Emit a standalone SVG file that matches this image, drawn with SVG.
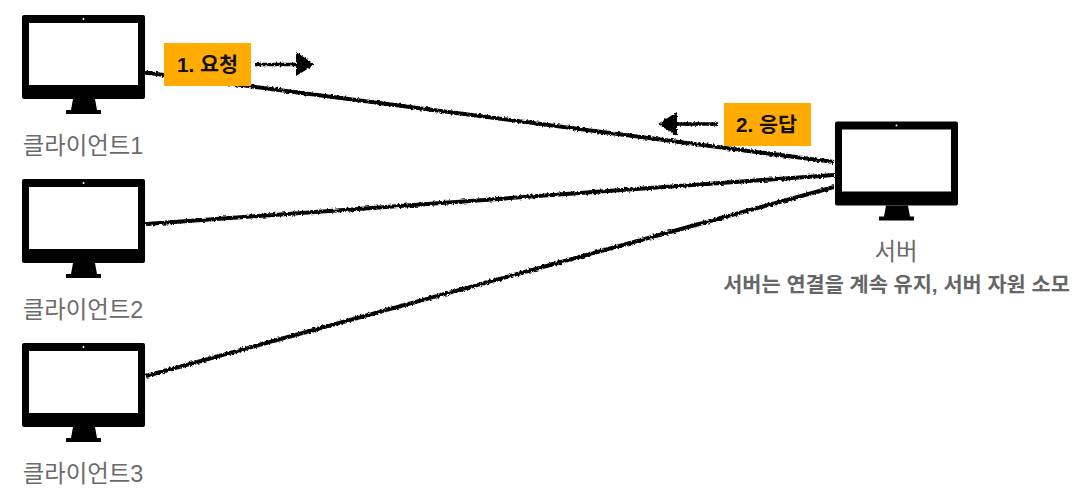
<svg xmlns="http://www.w3.org/2000/svg" width="1074" height="494" viewBox="0 0 1074 494">
<style>
text{font-family:"Liberation Sans","Noto Sans CJK KR",sans-serif}
.cap{font-size:23.400px;fill:#6b6b6b}
.note{font-size:20.800px;font-weight:700;fill:#666}
.tag{font-size:20.700px;font-weight:700;fill:#111}
.wire{stroke:#000;stroke-width:4;fill:none}
.small{stroke:#000;stroke-width:3.600;fill:none}
</style>
<defs>
<filter id="rough" x="-5%" y="-50%" width="110%" height="200%">
<feTurbulence type="fractalNoise" baseFrequency="0.45" numOctaves="3" seed="3"/>
<feDisplacementMap in="SourceGraphic" scale="3.500" xChannelSelector="R" yChannelSelector="G"/>
</filter>
<g id="monitor">
<rect x="22" y="15" width="123" height="84" rx="2" fill="#000"/>
<rect x="29" y="23" width="109" height="62" fill="#fff"/>
<circle cx="83.500" cy="19" r="1" fill="#fff"/>
<path d="M73 99H95L97 110H101V114H66V110H71Z" fill="#000"/>
</g>
</defs>
<g id="connectors">
<g filter="url(#rough)">
<path class="wire" d="M145 72.500L834 162"/>
<path class="wire" d="M146 224L834 175"/>
<path class="wire" d="M146 376L834 187"/>
</g>
<g filter="url(#rough)">
<path class="small" d="M255 64.500H298"/>
<path d="M296 52L315 64.500L296 76Z" fill="#000"/>
<path class="small" d="M718 124H675"/>
<path d="M677 112L658 124L677 136Z" fill="#000"/>
</g>
</g>
<g id="client1"><use href="#monitor"/><text class="cap" x="83" y="154" text-anchor="middle">클라이언트1</text></g>
<g id="client2"><use href="#monitor" y="164"/><text class="cap" x="83" y="318" text-anchor="middle">클라이언트2</text></g>
<g id="client3"><use href="#monitor" y="328"/><text class="cap" x="83" y="482" text-anchor="middle">클라이언트3</text></g>
<g id="server"><use href="#monitor" x="813" y="106.500"/>
<text class="cap" x="896" y="260" text-anchor="middle">서버</text>
<text class="note" x="896.500" y="292" text-anchor="middle">서버는 연결을 계속 유지, 서버 자원 소모</text></g>
<g id="request"><rect x="164" y="43" width="87" height="43" fill="#ffab00"/><text class="tag" x="207.500" y="72" text-anchor="middle">1. 요청</text></g>
<g id="response"><rect x="724" y="103" width="87" height="43" fill="#ffab00"/><text class="tag" x="766.500" y="132" text-anchor="middle">2. 응답</text></g>
</svg>
